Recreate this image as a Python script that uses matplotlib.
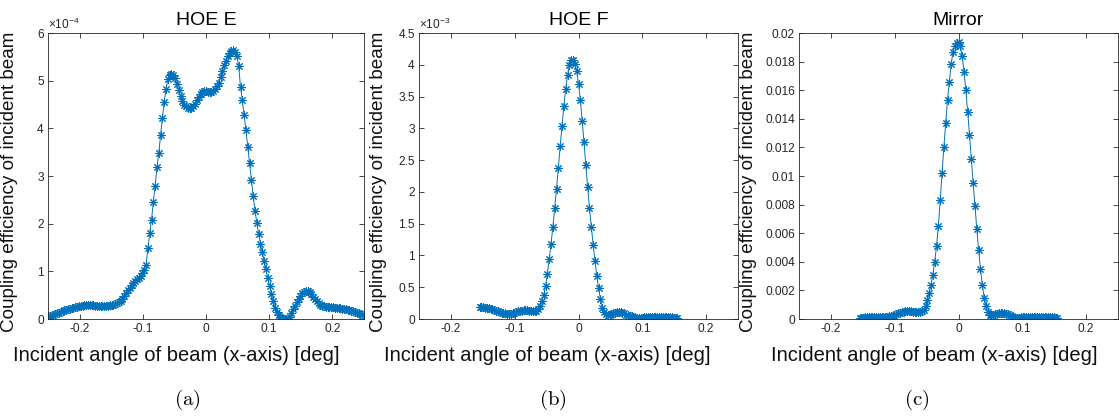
import numpy as np
import matplotlib
matplotlib.use('Agg')
import matplotlib.pyplot as plt
from matplotlib.ticker import FormatStrFormatter

plt.rcParams['font.family'] = ['Liberation Sans', 'DejaVu Sans']
plt.rcParams['axes.unicode_minus'] = False
plt.rcParams['mathtext.fontset'] = 'custom'
plt.rcParams['mathtext.rm'] = 'Liberation Sans'
plt.rcParams['mathtext.it'] = 'Liberation Sans:italic'

BLUE = '#0072BD'
GREY = '#262626'

# sample grids (deg)
angle_wide = np.linspace(-0.25, 0.25, 175)
angle_narrow = np.linspace(-0.155, 0.155, 109)

# HOE E, coupling efficiency in units of 1e-4
hoe_e = [
    0.06, 0.07, 0.08, 0.09, 0.10, 0.12, 0.13, 0.15, 0.16, 0.18,
    0.19, 0.21, 0.22, 0.23, 0.24, 0.25, 0.26, 0.27, 0.28, 0.28,
    0.29, 0.29, 0.29, 0.29, 0.29, 0.29, 0.28, 0.28, 0.28, 0.28,
    0.28, 0.28, 0.28, 0.28, 0.29, 0.29, 0.30, 0.31, 0.33, 0.35,
    0.38, 0.42, 0.48, 0.54, 0.60, 0.66, 0.71, 0.75, 0.79, 0.83,
    0.87, 0.91, 0.96, 1.03, 1.14, 1.48, 1.80, 2.08, 2.46, 2.80,
    3.18, 3.49, 3.86, 4.22, 4.56, 4.82, 5.04, 5.12, 5.14, 5.12,
    5.05, 4.94, 4.80, 4.67, 4.57, 4.50, 4.46, 4.43, 4.42, 4.43,
    4.46, 4.52, 4.59, 4.66, 4.72, 4.77, 4.79, 4.79, 4.77, 4.76,
    4.76, 4.79, 4.82, 4.88, 4.96, 5.08, 5.20, 5.32, 5.42, 5.51,
    5.57, 5.62, 5.64, 5.61, 5.52, 5.31, 4.86, 4.59, 4.28, 3.96,
    3.61, 3.27, 2.92, 2.57, 2.27, 2.01, 1.78, 1.58, 1.40, 1.22,
    1.04, 0.86, 0.69, 0.52, 0.37, 0.24, 0.14, 0.08, 0.04, 0.02,
    0.01, 0.00, 0.01, 0.05, 0.12, 0.20, 0.28, 0.36, 0.43, 0.49,
    0.54, 0.57, 0.58, 0.58, 0.56, 0.52, 0.47, 0.42, 0.37, 0.33,
    0.30, 0.28, 0.27, 0.26, 0.26, 0.25, 0.25, 0.25, 0.24, 0.24,
    0.23, 0.23, 0.22, 0.21, 0.20, 0.19, 0.18, 0.17, 0.16, 0.15,
    0.13, 0.12, 0.10, 0.09, 0.07,
]

# HOE F, units of 1e-3
hoe_f = [
    0.19, 0.19, 0.19, 0.18, 0.18, 0.17, 0.16, 0.15, 0.14, 0.13,
    0.12, 0.11, 0.10, 0.09, 0.09, 0.08, 0.08, 0.08, 0.09, 0.10,
    0.11, 0.12, 0.13, 0.13, 0.14, 0.14, 0.14, 0.13, 0.13, 0.12,
    0.12, 0.13, 0.15, 0.20, 0.28, 0.38, 0.52, 0.71, 0.94, 1.18,
    1.45, 1.74, 2.05, 2.38, 2.72, 3.04, 3.35, 3.62, 3.84, 3.99,
    4.07, 4.08, 4.02, 3.90, 3.70, 3.45, 3.12, 2.78, 2.42, 2.08,
    1.75, 1.45, 1.17, 0.92, 0.68, 0.48, 0.31, 0.18, 0.11, 0.08,
    0.07, 0.07, 0.08, 0.09, 0.10, 0.11, 0.11, 0.11, 0.10, 0.09,
    0.07, 0.06, 0.05, 0.04, 0.03, 0.02, 0.02, 0.02, 0.02, 0.02,
    0.03, 0.03, 0.03, 0.03, 0.03, 0.03, 0.03, 0.03, 0.03, 0.03,
    0.03, 0.03, 0.03, 0.03, 0.03, 0.03, 0.02, 0.02, 0.02,
]

# Mirror, absolute values
mirror = [
    0.00010, 0.00010, 0.00010, 0.00011, 0.00011, 0.00012, 0.00012, 0.00012, 0.00013, 0.00013,
    0.00014, 0.00014, 0.00015, 0.00015, 0.00016, 0.00017, 0.00018, 0.00020, 0.00024, 0.00029,
    0.00034, 0.00039, 0.00044, 0.00049, 0.00052, 0.00055, 0.00056, 0.00056, 0.00055, 0.00052,
    0.00050, 0.00048, 0.00048, 0.00050, 0.00055, 0.00065, 0.00090, 0.00130, 0.00180, 0.00240,
    0.00310, 0.00400, 0.00510, 0.00650, 0.00830, 0.01020, 0.01200, 0.01370, 0.01530, 0.01660,
    0.01780, 0.01870, 0.01910, 0.01930, 0.01935, 0.01910, 0.01840, 0.01730, 0.01600, 0.01450,
    0.01290, 0.01120, 0.00950, 0.00790, 0.00630, 0.00480, 0.00350, 0.00240, 0.00150, 0.00090,
    0.00050, 0.00030, 0.00025, 0.00028, 0.00033, 0.00038, 0.00042, 0.00045, 0.00045, 0.00042,
    0.00038, 0.00032, 0.00025, 0.00018, 0.00013, 0.00010, 0.00010, 0.00010, 0.00011, 0.00012,
    0.00012, 0.00013, 0.00013, 0.00013, 0.00013, 0.00013, 0.00013, 0.00013, 0.00012, 0.00012,
    0.00012, 0.00012, 0.00012, 0.00012, 0.00011, 0.00011, 0.00011, 0.00010, 0.00010,
]

x_ticks = [-0.2, -0.1, 0, 0.1, 0.2]
y_ticks_e = [0, 1, 2, 3, 4, 5, 6]
y_ticks_f = [0, 0.5, 1, 1.5, 2, 2.5, 3, 3.5, 4, 4.5]
y_ticks_m = [0, 0.002, 0.004, 0.006, 0.008, 0.01, 0.012, 0.014, 0.016, 0.018, 0.02]

W, H = 1119, 419


def px_axes(fig, left, right, top, bottom):
    return fig.add_axes([left / W, 1 - bottom / H, (right - left) / W, (bottom - top) / H])


def draw_panel(ax, x, y, yticks, title, ylabel_x, exponent=None):
    ax.plot(x, y, color=BLUE, linewidth=0.7, marker=(8, 2, 0),
            markersize=6, markeredgewidth=0.75)
    ax.set_xlim(-0.25, 0.25)
    ax.set_ylim(yticks[0], yticks[-1])
    ax.set_xticks(x_ticks)
    ax.set_yticks(yticks)
    ax.xaxis.set_major_formatter(FormatStrFormatter('%g'))
    ax.yaxis.set_major_formatter(FormatStrFormatter('%g'))
    ax.tick_params(direction='in', top=True, right=True, length=3.5, width=0.6,
                   colors=GREY, labelsize=8.6, pad=3)
    for sp in ax.spines.values():
        sp.set_color(GREY)
        sp.set_linewidth(0.6)
    ax.set_title(title, fontsize=14, pad=6)
    ax.set_ylabel('Coupling efficiency of incident beam', fontsize=13.6, color='#111111')
    ax.yaxis.set_label_coords(ylabel_x, 0.48)
    if exponent:
        ax.text(0.0, 1.005, exponent, transform=ax.transAxes, ha='left', va='bottom',
                fontsize=8.6, color=GREY)


fig = plt.figure(figsize=(W / 100, H / 100), dpi=100)

ax_e = px_axes(fig, 48, 364, 33, 319)
ax_f = px_axes(fig, 419, 738, 33, 319)
ax_m = px_axes(fig, 799, 1118, 33, 319)

draw_panel(ax_e, angle_wide, hoe_e, y_ticks_e, 'HOE E', -0.095, r'$\times10^{-4}$')
draw_panel(ax_f, angle_narrow, hoe_f, y_ticks_f, 'HOE F', -0.10, r'$\times10^{-3}$')
draw_panel(ax_m, angle_narrow, mirror, y_ticks_m, 'Mirror', -0.133)

# x labels and sub-captions
for cx, cap_x, cap in [(176, 187, '(a)'), (547, 553, '(b)'), (934, 917, '(c)')]:
    fig.text(cx / W, 1 - 355 / H, 'Incident angle of beam (x-axis) [deg]',
             ha='center', va='center', fontsize=14.5, color='#111111')
    fig.text(cap_x / W, 1 - 400 / H, r'$\mathrm{' + cap + '}$', math_fontfamily='cm',
             ha='center', va='center', fontsize=15)

fig.savefig('out.png', dpi=100)
